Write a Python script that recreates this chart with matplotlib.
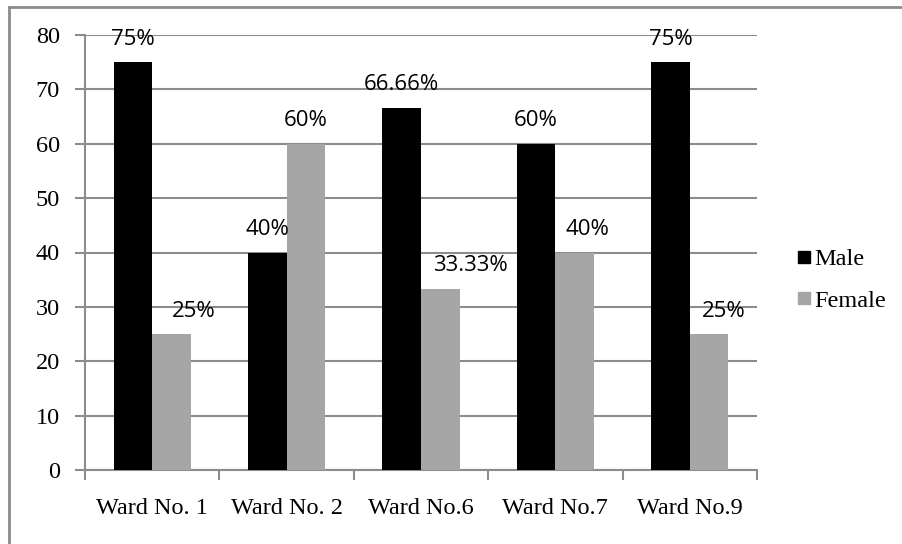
import matplotlib
matplotlib.use("Agg")
import matplotlib.pyplot as plt
import numpy as np
from matplotlib.lines import Line2D

# ward-wise share of respondents by gender (percent)
wards = ["Ward No. 1", "Ward No. 2", "Ward No.6", "Ward No.7", "Ward No.9"]
male = [75, 40, 66.66, 60, 75]
female = [25, 60, 33.33, 40, 25]
yticks = [0, 10, 20, 30, 40, 50, 60, 70, 80]

# horizontal nudges (pixels) for the female value labels
female_label_dx = [22, 0, 30, 13, 15]

grid_col = "#8c8c8c"
male_col = "#000000"
female_col = "#a6a6a6"
serif = "Liberation Serif"
label_font = "Open Sans"

fig = plt.figure(figsize=(9.02, 5.44), dpi=100)
ax = fig.add_axes([85 / 902, 74 / 544, 672 / 902, 435 / 544])

x = np.arange(len(wards))
w = 0.2865
ax.bar(x - w / 2, male, w, color=male_col, zorder=3)
ax.bar(x + w / 2, female, w, color=female_col, zorder=3)

def pct(v):
    return f"{v:g}%"

for i, v in enumerate(male):
    ax.annotate(pct(v), (x[i] - w / 2, v), xytext=(0, 23),
                textcoords="offset pixels", ha="center", va="center",
                fontsize=16, family=label_font, zorder=4)
for i, v in enumerate(female):
    ax.annotate(pct(v), (x[i] + w / 2, v), xytext=(female_label_dx[i], 23),
                textcoords="offset pixels", ha="center", va="center",
                fontsize=16, family=label_font, zorder=4)

ax.set_xlim(-0.5, len(wards) - 0.5)
ax.set_ylim(0, 80)
ax.set_yticks(yticks)
ax.set_yticklabels([str(t) for t in yticks], family=serif, fontsize=17.5)
ax.yaxis.grid(True, color=grid_col, linewidth=1.5, zorder=0)
ax.set_axisbelow(True)

ax.set_xticks(x)
ax.set_xticklabels(wards, family=serif, fontsize=17.5)
ax.tick_params(axis="x", which="major", length=0, pad=20)
ax.set_xticks(np.arange(-0.5, len(wards)), minor=True)
ax.tick_params(axis="x", which="minor", length=7, width=1.5, color=grid_col,
               direction="out")
ax.tick_params(axis="y", length=7, width=1.5, color=grid_col, pad=11)

for s in ["top", "right"]:
    ax.spines[s].set_visible(False)
for s in ["left", "bottom"]:
    ax.spines[s].set_color(grid_col)
    ax.spines[s].set_linewidth(1.5)

handles = [Line2D([], [], marker="s", linestyle="none", markersize=8.5,
                  color=c) for c in (male_col, female_col)]
leg = fig.legend(handles, ["Male", "Female"], loc="center left",
                 bbox_to_anchor=(785 / 902, 1 - 280 / 544), frameon=False,
                 prop={"family": serif, "size": 17.5}, handlelength=0.6,
                 handletextpad=0.1, labelspacing=0.8, borderpad=0)

# chart frame (clipped on the right and bottom)
fig.add_artist(Line2D([9 / 902, 1.0], [1 - 7 / 544, 1 - 7 / 544],
                      transform=fig.transFigure, color=grid_col, linewidth=2))
fig.add_artist(Line2D([9 / 902, 9 / 902], [0.0, 1 - 7 / 544],
                      transform=fig.transFigure, color=grid_col, linewidth=2))

fig.savefig("out.png", dpi=100)
